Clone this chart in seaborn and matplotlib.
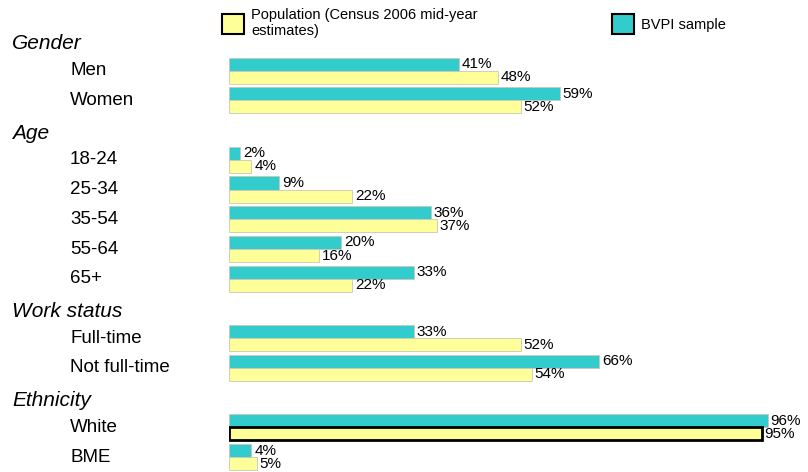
import matplotlib
matplotlib.use("Agg")
import matplotlib.pyplot as plt
import matplotlib.transforms as mtransforms
from matplotlib.patches import Patch
import pandas as pd
import seaborn as sns

# row layout: section headers take an empty slot, like in the original chart
HEADERS = ["Gender", "Age", "Work status", "Ethnicity"]
ROWS = ["Gender", "Men", "Women",
        "Age", "18-24", "25-34", "35-54", "55-64", "65+",
        "Work status", "Full-time", "Not full-time",
        "Ethnicity", "White", "BME"]

categories = ["Men", "Women", "18-24", "25-34", "35-54", "55-64", "65+",
              "Full-time", "Not full-time", "White", "BME"]
bvpi_sample = [41, 59, 2, 9, 36, 20, 33, 33, 66, 96, 4]
population = [48, 52, 4, 22, 37, 16, 22, 52, 54, 95, 5]

SAMPLE = "BVPI sample"
POP = "Population (Census 2006 mid-year\nestimates)"
TEAL = "#33CCCC"
YELLOW = "#FFFF99"

df = pd.concat([
    pd.DataFrame({"category": categories, "value": bvpi_sample, "group": SAMPLE}),
    pd.DataFrame({"category": categories, "value": population, "group": POP}),
], ignore_index=True)

sns.set_style("white")
plt.rcParams["font.family"] = ["Liberation Sans", "DejaVu Sans"]
plt.rcParams["text.color"] = "black"

fig = plt.figure(figsize=(8.08, 4.72), dpi=100)
ax = fig.add_axes([229 / 808, 0.0, 561 / 808, 1 - 26 / 472])

sns.barplot(data=df, x="value", y="category", hue="group", order=ROWS,
            hue_order=[SAMPLE, POP], palette={SAMPLE: TEAL, POP: YELLOW},
            saturation=1, width=0.88, edgecolor="#c8c8b8", linewidth=0.6,
            legend=False, ax=ax)

ax.set_xlim(0, 100)
ax.set_ylim(len(ROWS) - 0.5, -0.5)
ax.set_axis_off()

# value labels next to each bar
for cont, vals in zip(ax.containers, [bvpi_sample, population]):
    ax.bar_label(cont, labels=[f"{v}%" for v in vals], padding=2,
                 fontsize=11, color="black")

# highlighted population bar for White
white_pos = ROWS.index("White")
for bar in ax.containers[1]:
    yc = bar.get_y() + bar.get_height() / 2
    if abs(yc - white_pos) < 0.5:
        bar.set_edgecolor("black")
        bar.set_linewidth(2)

# row labels
trans = mtransforms.blended_transform_factory(fig.transFigure, ax.transData)
for i, name in enumerate(ROWS):
    if name in HEADERS:
        ax.text(12 / 808, i + 0.1, name, transform=trans, ha="left", va="center",
                fontsize=15, style="italic", color="black")
    else:
        ax.text(70 / 808, i, name, transform=trans, ha="left", va="center",
                fontsize=13.5, color="black")

handles = [Patch(facecolor=YELLOW, edgecolor="black", linewidth=1.5, label=POP),
           Patch(facecolor=TEAL, edgecolor="black", linewidth=1.5, label=SAMPLE)]
fig.legend(handles=handles, loc="upper left", bbox_to_anchor=(222 / 808, 1 - 8 / 472),
           ncol=2, frameon=False, fontsize=10.5, borderpad=0, borderaxespad=0,
           handlelength=1.5, handleheight=1.8, handletextpad=0.5,
           columnspacing=9.2, labelspacing=0.2, labelcolor="black")

fig.savefig("out.png", dpi=100)
